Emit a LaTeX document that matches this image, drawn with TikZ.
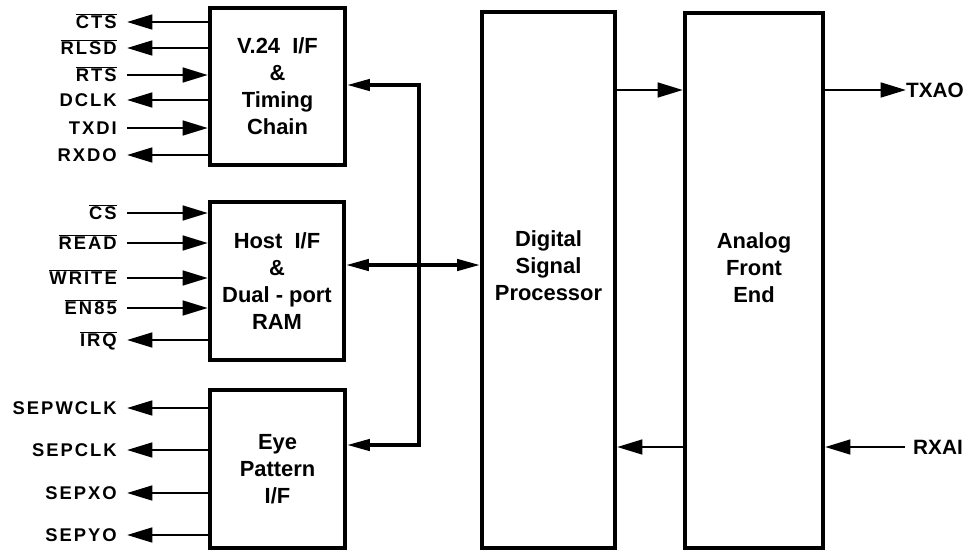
\documentclass[tikz,border=0pt]{standalone}
\usepackage{fontspec}
\setmainfont{Liberation Sans}
\usetikzlibrary{arrows.meta}

\newcommand{\negsig}[1]{$\overline{\mbox{#1}}$}

\begin{document}
\begin{tikzpicture}[x=0.03cm, y=-0.03cm,
    font=\fontsize{18.7}{23}\selectfont\bfseries,
    >={Triangle[length=0.76cm, width=0.44cm]},
    blk/.style={draw, line width=3.6pt, align=center, inner sep=0pt},
    lbl/.style={anchor=east, inner sep=0pt, text height=11.2pt, text depth=0pt,
        font=\fontsize{15.7}{18}\selectfont\bfseries\addfontfeatures{LetterSpace=11}},
    pin/.style={anchor=west, inner sep=0pt, text height=12.7pt, text depth=0pt,
        font=\fontsize{17.7}{20}\selectfont\bfseries},
    sig/.style={line width=2.3pt},
    sigin/.style={sig, ->},
    sigout/.style={sig, <-},
    bus/.style={line width=2.8pt, {Triangle[length=0.68cm, width=0.34cm]}-{Triangle[length=0.68cm, width=0.34cm]}}]
    \useasboundingbox (0,0) rectangle (976,553);

    \node[blk, minimum width=4.05cm, minimum height=4.71cm] (v24) at (277.5,86.5) {V.24\ \ I/F\\\&\\Timing\\Chain};
    \node[blk, minimum width=4.02cm, minimum height=4.74cm] (host) at (277,281) {Host\ \ I/F\\\&\\Dual - port\\RAM};
    \node[blk, minimum width=4.05cm, minimum height=4.74cm] (eye) at (277.5,469) {Eye\\Pattern\\I/F};
    \node[blk, minimum width=3.99cm, minimum height=16.08cm] (dsp) at (548.5,280) {};
    \node[blk, minimum width=4.14cm, minimum height=16.05cm] (afe) at (754,280.5) {};
    \node[align=center] (dsptxt) at (548.5,266) {Digital\\Signal\\Processor};
    \node[align=center] (afetxt) at (754,268) {Analog\\Front\\End};

    \foreach \nm/\y/\txt/\dir/\bx in {cts/22/\negsig{CTS}/sigout/v24, rlsd/48/\negsig{RLSD}/sigout/v24,
        rts/75/\negsig{RTS}/sigin/v24, dclk/100/DCLK/sigout/v24, txdi/128/TXDI/sigin/v24,
        rxdo/155/RXDO/sigout/v24, cs/213/\negsig{CS}/sigin/host, rd/243/\negsig{READ}/sigin/host,
        wr/278/\negsig{WRITE}/sigin/host, en/308/\negsig{EN85}/sigin/host, irq/340/\negsig{IRQ}/sigout/host,
        sepw/408/SEPWCLK/sigout/eye, sepc/450/SEPCLK/sigout/eye, sepx/493/SEPXO/sigout/eye,
        sepy/535/SEPYO/sigout/eye}
    {
        \node[lbl] (\nm) at (117,\y) {\txt};
        \draw[\dir] ([xshift=0.3cm]\nm.east) -- (\nm -| \bx.west);
    }

    \coordinate (bt) at (419,85);
    \coordinate (bm) at (419,265);
    \coordinate (bb) at (419,445);
    \draw[bus] (v24.east |- bt) -- (bt) -- (bb) -- (eye.east |- bb);
    \draw[bus] (host.east |- bm) -- (dsp.west |- bm);

    \node[pin] (txao) at (906,90) {TXAO};
    \node[pin] (rxai) at (913,447) {RXAI};
    \draw[sigin] (dsp.east |- txao) -- (afe.west |- txao);
    \draw[sigout] (dsp.east |- rxai) -- (afe.west |- rxai);
    \draw[sigin] (afe.east |- txao) -- (txao.west);
    \draw[sigout] (afe.east |- rxai) -- ([xshift=-0.24cm]rxai.west);
\end{tikzpicture}
\end{document}
